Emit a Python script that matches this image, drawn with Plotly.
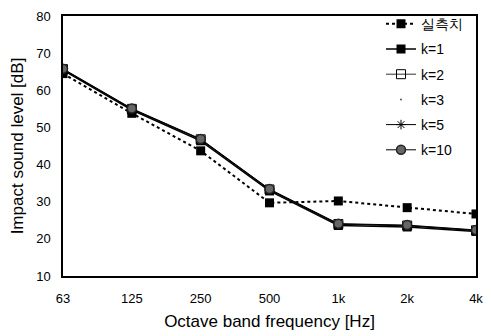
import plotly.graph_objects as go

freqs = ["63", "125", "250", "500", "1k", "2k", "4k"]
measured = [64.5, 53.8, 43.7, 29.7, 30.2, 28.4, 26.7]
k1 = [65.4, 54.7, 46.4, 32.9, 23.6, 23.2, 22.0]
k2 = [65.7, 55.0, 46.8, 33.3, 24.0, 23.6, 22.3]
k3 = [65.5, 54.8, 46.6, 33.1, 23.8, 23.4, 22.1]
k5 = [65.6, 54.9, 46.7, 33.2, 23.9, 23.5, 22.2]
k10 = [65.8, 55.1, 46.9, 33.4, 24.1, 23.7, 22.4]

FONT = "Liberation Sans, Arial, sans-serif"

fig = go.Figure()
fig.add_trace(go.Scatter(
    x=freqs, y=measured, name="실측치", mode="lines+markers", legendgroup="m",
    line=dict(color="black", width=2, dash="dot"),
    marker=dict(symbol="square", size=9, color="black")))
fig.add_trace(go.Scatter(
    x=freqs, y=k1, name="k=1", mode="lines+markers", legendgroup="k1",
    line=dict(color="black", width=1.5),
    marker=dict(symbol="square", size=9, color="black")))
fig.add_trace(go.Scatter(
    x=freqs, y=k2, name="k=2", mode="lines+markers", legendgroup="k2",
    line=dict(color="#333333", width=1),
    marker=dict(symbol="square-open", size=9, color="black")))
fig.add_trace(go.Scatter(
    x=freqs, y=k3, name="k=3", mode="markers", legendgroup="k3",
    marker=dict(symbol="circle", size=2, color="#555555")))
fig.add_trace(go.Scatter(
    x=freqs, y=k5, name="k=5", mode="lines+markers", legendgroup="k5",
    line=dict(color="black", width=1),
    marker=dict(symbol="asterisk-open", size=8, color="black", line=dict(width=1))))
fig.add_trace(go.Scatter(
    x=freqs, y=k10, name="k=10", mode="lines+markers", legendgroup="k10",
    line=dict(color="black", width=1),
    marker=dict(symbol="circle", size=9, color="#666666",
                line=dict(color="#222222", width=1.5))))

fig.update_layout(
    width=491, height=336,
    margin=dict(l=63, r=8, t=12, b=58),
    paper_bgcolor="white", plot_bgcolor="white",
    font=dict(family=FONT, size=13, color="black"),
    showlegend=True,
    legend=dict(x=0.77, y=1.03, xanchor="left", yanchor="top",
                bgcolor="rgba(0,0,0,0)", font=dict(size=14),
                tracegroupgap=4, itemwidth=30),
    xaxis=dict(type="category", range=[0, 6], showgrid=False,
               showline=True, linecolor="black", linewidth=1.5, mirror=True,
               ticks="", tickfont=dict(size=13), zeroline=False,
               ticklabelstandoff=10,
               title=dict(text="Octave band frequency [Hz]", font=dict(size=17), standoff=10)),
    yaxis=dict(range=[10, 80], dtick=10, showgrid=False,
               showline=True, linecolor="black", linewidth=1.5, mirror=True,
               ticks="", tickfont=dict(size=13), zeroline=False,
               ticklabelstandoff=8,
               title=dict(text="Impact sound level [dB]", font=dict(size=17), standoff=8)),
)

fig.write_html("out.html")
